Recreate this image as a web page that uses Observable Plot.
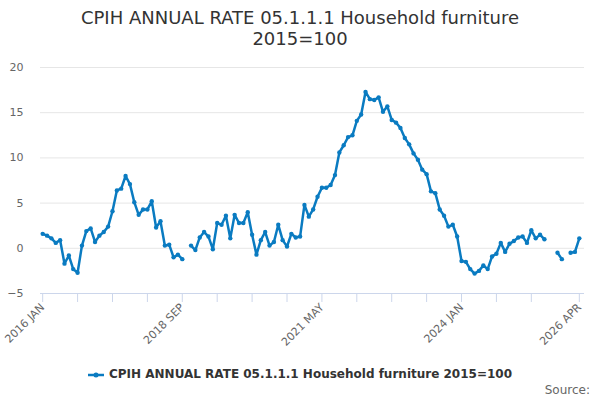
<!DOCTYPE html>
<html>
<head>
<meta charset="utf-8">
<script src="https://cdn.jsdelivr.net/npm/d3@7"></script>
<script src="https://cdn.jsdelivr.net/npm/@observablehq/plot@0.6"></script>
<style>
  body { margin: 0; width: 600px; height: 400px; position: relative; background: #fff; font-family: "DejaVu Sans", sans-serif; overflow: hidden; }
  #title { position: absolute; top: 7px; left: 0; width: 600px; text-align: center; font-size: 18px; line-height: 21px; color: #333; }
  #chart { position: absolute; top: 55px; left: 0; }
  #legend { position: absolute; top: 367px; left: 0; width: 600px; text-align: center; font-size: 12px; font-weight: bold; color: #333; }
  #legend svg { vertical-align: middle; margin-right: 5px; }
  #source { position: absolute; top: 383px; right: 10px; font-size: 12px; color: #666; }
</style>
</head>
<body>
<div id="title">CPIH ANNUAL RATE 05.1.1.1 Household furniture<br>2015=100</div>
<div id="chart"></div>
<div id="legend"></div>
<div id="source">Source:</div>
<script>
const seriesName = "CPIH ANNUAL RATE 05.1.1.1 Household furniture 2015=100";
const monthNames = ["JAN","FEB","MAR","APR","MAY","JUN","JUL","AUG","SEP","OCT","NOV","DEC"];
const startYear = 2016;
const monthCount = 124;
const months = [];
for (let i = 0; i < monthCount; i++) {
  months.push(`${startYear + Math.floor(i / 12)} ${monthNames[i % 12]}`);
}
const values = [
  1.6, 1.4, 1.1, 0.6, 0.9, -1.7, -0.8, -2.3, -2.7, 0.3, 1.9, 2.2,
  0.7, 1.4, 1.8, 2.4, 4.1, 6.4, 6.6, 8.0, 7.1, 5.1, 3.7, 4.3,
  4.3, 5.2, 2.3, 3.0, 0.3, 0.4, -1.0, -0.7, -1.2, null, 0.3, -0.2,
  1.2, 1.8, 1.3, -0.1, 2.8, 2.6, 3.6, 1.1, 3.7, 2.8, 2.8, 4.0,
  1.5, -0.7, 0.9, 1.8, 0.3, 0.7, 2.6, 0.9, 0.2, 1.6, 1.2, 1.3,
  4.8, 3.5, 4.3, 5.7, 6.7, 6.7, 7.0, 8.1, 10.6, 11.4, 12.3, 12.5,
  14.1, 14.8, 17.3, 16.5, 16.4, 16.7, 15.1, 15.7, 14.2, 13.9, 13.3, 12.2,
  11.5, 10.5, 9.8, 8.7, 8.2, 6.3, 6.1, 4.3, 3.6, 2.4, 2.6, 1.3,
  -1.4, -1.5, -2.3, -2.8, -2.5, -1.9, -2.3, -0.9, -0.6, 0.6, -0.4, 0.5,
  0.8, 1.2, 1.3, 0.6, 2.0, 1.1, 1.5, 1.0, null, null, -0.5, -1.2,
  null, -0.5, -0.4, 1.1
];
const yTicks = [-5, 0, 5, 10, 15, 20];
const xTickMonths = ["2016 JAN","2016 SEP","2017 MAY","2018 JAN","2018 SEP","2019 MAY","2020 JAN","2020 SEP","2021 MAY","2022 JAN","2022 SEP","2023 MAY","2024 JAN","2024 SEP","2025 MAY","2026 APR"];
const xLabelMonths = ["2016 JAN","2018 SEP","2021 MAY","2024 JAN","2026 APR"];

const lineColor = "#0a7bc1";
const data = months.map((m, i) => ({month: m, value: values[i] == null ? NaN : values[i]}));

const chart = Plot.plot({
  width: 600,
  height: 300,
  marginTop: 12,
  marginBottom: 62,
  marginLeft: 40,
  marginRight: 16,
  style: {fontFamily: "DejaVu Sans, sans-serif", overflow: "visible"},
  x: {type: "point", domain: months, range: [40, 581]},
  y: {domain: [-5, 20]},
  marks: [
    Plot.ruleY(yTicks.filter(d => d > -5), {stroke: "#e6e6e6", strokeWidth: 1}),
    Plot.axisY({ticks: yTicks, tickSize: 0, tickPadding: 17, fontSize: 11, fill: "#666", label: null}),
    Plot.axisX({ticks: xTickMonths, tickFormat: d => xLabelMonths.includes(d) ? d : "", tickSize: 9, tickPadding: 3, tickRotate: -45, stroke: "#ccd6eb", fill: "#666", fontSize: 11, label: null}),
    Plot.ruleY([-5], {stroke: "#ccd6eb", strokeWidth: 1}),
    Plot.lineY(data, {x: "month", y: "value", stroke: lineColor, strokeWidth: 2.5}),
    Plot.dot(data.filter(d => !isNaN(d.value)), {x: "month", y: "value", r: 2.2, fill: lineColor, stroke: "none"})
  ]
});
document.getElementById("chart").appendChild(chart);

document.getElementById("legend").innerHTML =
  `<svg width="16" height="12"><line x1="0" x2="16" y1="6" y2="6" stroke="${lineColor}" stroke-width="2.5"/><circle cx="8" cy="6" r="2.5" fill="${lineColor}"/></svg>${seriesName}`;
</script>
</body>
</html>
